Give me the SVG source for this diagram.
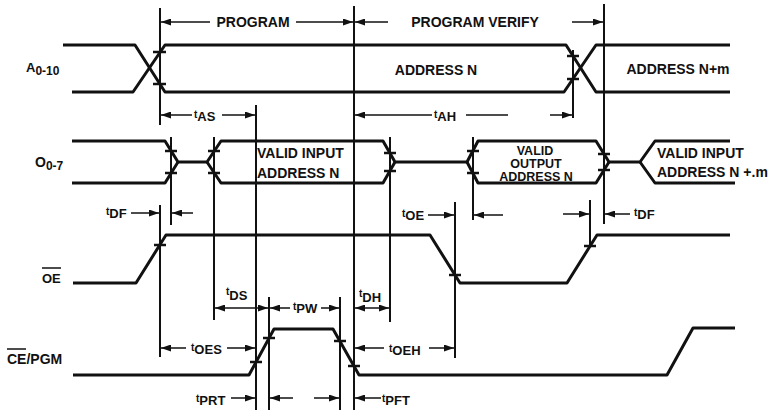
<svg xmlns="http://www.w3.org/2000/svg" width="769" height="412" viewBox="0 0 769 412">
<defs>
<marker id="ah" markerUnits="userSpaceOnUse" markerWidth="10" markerHeight="7" refX="10" refY="3.5" orient="auto-start-reverse">
<path d="M0,0 L10,3.5 L0,7 z" fill="#111"/>
</marker>
</defs>
<style>
.w{fill:none;stroke:#111;stroke-width:3;stroke-linejoin:round}
.v{stroke:#111;stroke-width:2}
.tk{stroke:#111;stroke-width:2.5}
.a{stroke:#111;stroke-width:1.5;marker-end:url(#ah)}
.aa{stroke:#111;stroke-width:1.5;marker-end:url(#ah);marker-start:url(#ah)}
.l{stroke:#111;stroke-width:1.5}
text{font-family:"Liberation Sans",Arial,sans-serif;font-weight:bold;fill:#111}
.t{font-size:14px}
.o{font-size:12.5px}
.s{font-size:13px}
.sm{font-size:10px}
.sub{font-size:12px}
</style>
<rect width="769" height="412" fill="#fff"/>

<g id="signal-A">
<text class="s" x="26" y="72">A<tspan class="sub" dy="3">0-10</tspan></text>
<path class="w" d="M63,45 H135 L165,92 H564 L596,45 H730"/>
<path class="w" d="M72,92 H133 L165,45 H566 L596,92 H730"/>
<text class="t" x="436" y="75" text-anchor="middle">ADDRESS N</text>
<text class="t" x="678" y="74" text-anchor="middle">ADDRESS N+m</text>
</g>

<g id="signal-O">
<text class="t" x="35" y="167">O<tspan class="sub" dy="3">0-7</tspan></text>
<path class="w" d="M72,141 H165 L178,162 H207 L221,141 H383 L395,162 H467 L478,141 H596 L609,162 H640 L655,141 H730"/>
<path class="w" d="M72,183 H165 L178,162 M207,162 L221,183 H383 L395,162 M467,162 L478,183 H596 L609,162 M640,162 L655,183 H735"/>
<text class="t" x="257" y="158">VALID INPUT</text>
<text class="t" x="257" y="178">ADDRESS N</text>
<text class="o" x="535" y="155" text-anchor="middle">VALID</text>
<text class="o" x="536" y="168" text-anchor="middle">OUTPUT</text>
<text class="o" x="536" y="181" text-anchor="middle">ADDRESS N</text>
<text class="t" x="657" y="158">VALID INPUT</text>
<text class="t" x="657" y="177">ADDRESS N +.m</text>
</g>

<g id="signal-OE">
<text class="s" x="42" y="283">OE</text>
<line class="l" x1="42" y1="268" x2="61" y2="268"/>
<path class="w" d="M73,283 H136 L166,235 H430 L460,283 H567 L597,235 H730"/>
</g>

<g id="signal-CE">
<text class="t" x="7" y="364">CE/PGM</text>
<line class="l" x1="7" y1="349" x2="26" y2="349"/>
<path class="w" d="M73,375 H249 L274,329 H333 L359,375 H667 L693,328 H735"/>
</g>

<g id="connectors">
<line class="v" x1="160" y1="8" x2="160" y2="125"/>
<line class="v" x1="160" y1="205" x2="160" y2="357"/>
<line class="v" x1="171" y1="137" x2="171" y2="225"/>
<line class="v" x1="214" y1="137" x2="214" y2="320"/>
<line class="v" x1="256" y1="105" x2="256" y2="410"/>
<line class="v" x1="269" y1="297" x2="269" y2="410"/>
<line class="v" x1="340" y1="297" x2="340" y2="410"/>
<line class="v" x1="354" y1="6" x2="354" y2="410"/>
<line class="v" x1="390" y1="137" x2="390" y2="322"/>
<line class="v" x1="455" y1="202" x2="455" y2="358"/>
<line class="v" x1="473" y1="137" x2="473" y2="220"/>
<line class="v" x1="573" y1="50" x2="573" y2="118"/>
<line class="v" x1="590" y1="200" x2="590" y2="247"/>
<line class="v" x1="604" y1="4" x2="604" y2="224"/>

<line class="tk" x1="153" y1="52" x2="166" y2="52"/>
<line class="tk" x1="153" y1="84" x2="166" y2="84"/>
<line class="tk" x1="567" y1="56" x2="579" y2="56"/>
<line class="tk" x1="567" y1="79" x2="579" y2="79"/>
<line class="tk" x1="165" y1="151" x2="177" y2="151"/>
<line class="tk" x1="165" y1="173" x2="177" y2="173"/>
<line class="tk" x1="208" y1="151" x2="220" y2="151"/>
<line class="tk" x1="208" y1="173" x2="220" y2="173"/>
<line class="tk" x1="384" y1="153" x2="396" y2="153"/>
<line class="tk" x1="384" y1="171" x2="396" y2="171"/>
<line class="tk" x1="467" y1="151" x2="479" y2="151"/>
<line class="tk" x1="467" y1="173" x2="479" y2="173"/>
<line class="tk" x1="598" y1="154" x2="610" y2="154"/>
<line class="tk" x1="598" y1="170" x2="610" y2="170"/>
<line class="tk" x1="154" y1="245" x2="166" y2="245"/>
<line class="tk" x1="449" y1="275" x2="461" y2="275"/>
<line class="tk" x1="584" y1="246" x2="596" y2="246"/>
<line class="tk" x1="250" y1="362" x2="262" y2="362"/>
<line class="tk" x1="263" y1="338" x2="275" y2="338"/>
<line class="tk" x1="334" y1="341" x2="346" y2="341"/>
<line class="tk" x1="348" y1="366" x2="360" y2="366"/>

<line class="a" x1="210" y1="22" x2="161" y2="22"/>
<text class="t" x="253" y="27" text-anchor="middle">PROGRAM</text>
<line class="a" x1="296" y1="22" x2="353" y2="22"/>
<line class="a" x1="388" y1="22" x2="355" y2="22"/>
<text class="t" x="475" y="27" text-anchor="middle">PROGRAM VERIFY</text>
<line class="a" x1="572" y1="22" x2="603" y2="22"/>

<line class="a" x1="192" y1="115" x2="161" y2="115"/>
<text class="s" x="194" y="121"><tspan class="sm" dy="-3">t</tspan><tspan dy="3">AS</tspan></text>
<line class="a" x1="222" y1="115" x2="255" y2="115"/>
<line class="a" x1="432" y1="115" x2="355" y2="115"/>
<text class="s" x="434" y="121"><tspan class="sm" dy="-3">t</tspan><tspan dy="3">AH</tspan></text>
<line class="l" x1="466" y1="115" x2="508" y2="115"/>
<line class="a" x1="550" y1="115" x2="572" y2="115"/>

<text class="s" x="106" y="218"><tspan class="sm" dy="-3">t</tspan><tspan dy="3">DF</tspan></text>
<line class="a" x1="131" y1="213" x2="159" y2="213"/>
<line class="a" x1="193" y1="213" x2="172" y2="213"/>
<text class="s" x="402" y="220"><tspan class="sm" dy="-3">t</tspan><tspan dy="3">OE</tspan></text>
<line class="a" x1="428" y1="215" x2="454" y2="215"/>
<line class="a" x1="503" y1="215" x2="474" y2="215"/>
<line class="a" x1="563" y1="214" x2="589" y2="214"/>
<line class="a" x1="630" y1="214" x2="605" y2="214"/>
<text class="s" x="634" y="219"><tspan class="sm" dy="-3">t</tspan><tspan dy="3">DF</tspan></text>

<text class="s" x="226" y="300"><tspan class="sm" dy="-5">t</tspan><tspan dy="5">DS</tspan></text>
<line class="aa" x1="215" y1="308" x2="268" y2="308"/>
<line class="a" x1="290" y1="308" x2="270" y2="308"/>
<text class="s" x="293" y="313"><tspan class="sm" dy="-3">t</tspan><tspan dy="3">PW</tspan></text>
<line class="a" x1="321" y1="308" x2="339" y2="308"/>
<text class="s" x="359" y="302"><tspan class="sm" dy="-5">t</tspan><tspan dy="5">DH</tspan></text>
<line class="aa" x1="355" y1="308" x2="389" y2="308"/>

<line class="a" x1="186" y1="348" x2="161" y2="348"/>
<text class="s" x="191" y="354"><tspan class="sm" dy="-3">t</tspan><tspan dy="3">OES</tspan></text>
<line class="a" x1="227" y1="348" x2="255" y2="348"/>
<line class="a" x1="384" y1="348" x2="355" y2="348"/>
<text class="s" x="389" y="355"><tspan class="sm" dy="-3">t</tspan><tspan dy="3">OEH</tspan></text>
<line class="a" x1="429" y1="348" x2="454" y2="348"/>

<text class="s" x="196" y="405"><tspan class="sm" dy="-3">t</tspan><tspan dy="3">PRT</tspan></text>
<line class="a" x1="231" y1="398" x2="255" y2="398"/>
<line class="a" x1="293" y1="398" x2="270" y2="398"/>
<line class="a" x1="314" y1="398" x2="339" y2="398"/>
<line class="a" x1="381" y1="398" x2="355" y2="398"/>
<text class="s" x="382" y="405"><tspan class="sm" dy="-3">t</tspan><tspan dy="3">PFT</tspan></text>
</g>
</svg>
